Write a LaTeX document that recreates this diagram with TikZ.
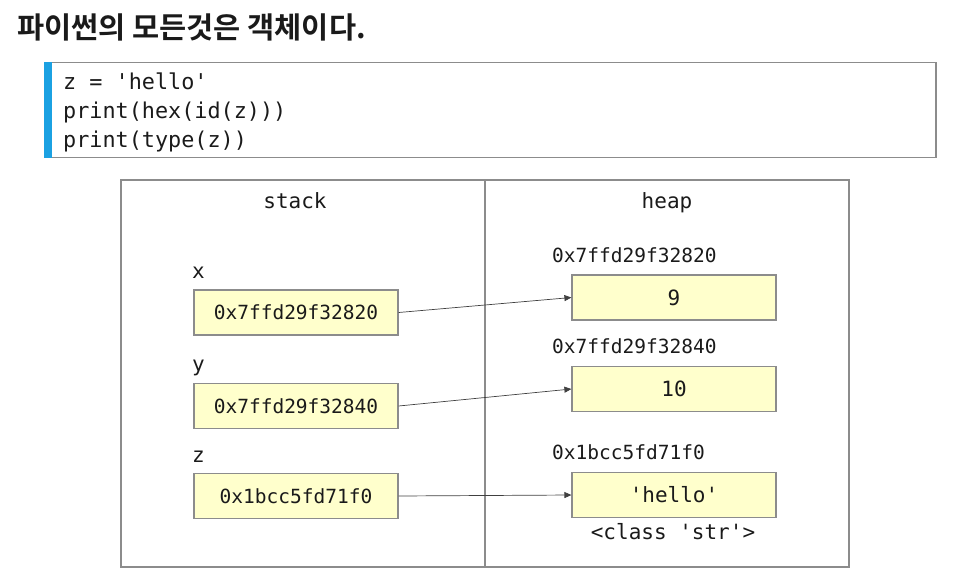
\documentclass[tikz,border=0pt]{standalone}
\usepackage{fontspec}
\setmonofont{DejaVu Sans Mono}
\newfontfamily\krfont{Noto Sans CJK KR}[BoldFont={* Bold}]
\usetikzlibrary{arrows.meta}
\definecolor{cellfill}{HTML}{FFFFCC}
\definecolor{cellline}{HTML}{8C8C8C}
\definecolor{barblue}{HTML}{1BA1E2}
\definecolor{frameline}{HTML}{8C8C8C}
\definecolor{txt}{HTML}{1A1A1A}
\tikzset{
  cell/.style={draw=cellline, line width=1.2pt, fill=cellfill, minimum width=204pt, minimum height=45pt, inner sep=0pt, text=txt},
  lbl/.style={inner sep=0pt, text=txt, anchor=base west, font=\ttfamily\fontsize{19.5}{20}\selectfont},
  head/.style={inner sep=0pt, text=txt, anchor=base, font=\ttfamily\fontsize{21}{22}\selectfont},
  link/.style={draw=black!75, line width=0.7pt, -{Triangle[length=7pt,width=6pt]}}
}
\begin{document}
\begin{tikzpicture}[x=1pt,y=-1pt]
\useasboundingbox (0,0) rectangle (960,586);
% title
\node[anchor=base west, inner sep=0pt, text=txt] (title) at (17,38) {\krfont\bfseries\fontsize{29.5}{31}\selectfont 파이썬의 모든것은 객체이다.};
% code box
\fill[barblue] (44,62) rectangle (52,158);
\draw[frameline, line width=1.2pt] (52,62.5) -- (936,62.5) -- (936,157.5) -- (52,157.5);
\node[anchor=north west, align=left, inner sep=0pt, text=txt, font=\ttfamily\fontsize{21.8}{29}\selectfont] (code) at (63,73)
 {z = 'hello'\\print(hex(id(z)))\\print(type(z))};
% frame
\draw[frameline, line width=1.2pt] (121,180) rectangle (849,567);
\draw[frameline, line width=1.2pt] (485,180) -- (485,567);
\node[head] (stack) at (295,208) {stack};
\node[head] (heap) at (667,208) {heap};
% stack
\node[head, anchor=base west] (xl) at (192,278) {x};
\node[head, anchor=base west] (yl) at (192,371) {y};
\node[head, anchor=base west] (zl) at (192,462) {z};
\node[cell, font=\ttfamily\fontsize{19.5}{20}\selectfont] (sx) at (296,312.5) {0x7ffd29f32820};
\node[cell, font=\ttfamily\fontsize{19.5}{20}\selectfont] (sy) at (296,406) {0x7ffd29f32840};
\node[cell, font=\ttfamily\fontsize{19.5}{20}\selectfont] (sz) at (296,496) {0x1bcc5fd71f0};
% heap
\node[lbl] (hxl) at (552,262) {0x7ffd29f32820};
\node[lbl] (hyl) at (552,353) {0x7ffd29f32840};
\node[lbl] (hzl) at (552,459) {0x1bcc5fd71f0};
\node[cell, font=\ttfamily\fontsize{21}{22}\selectfont] (hx) at (674,297.5) {9};
\node[cell, font=\ttfamily\fontsize{21}{22}\selectfont] (hy) at (674,389) {10};
\node[cell, font=\ttfamily\fontsize{21}{22}\selectfont] (hz) at (674,495) {'hello'};
\node[head] (cls) at (673,539) {<class 'str'>};
% links
\draw[link] (sx.east) -- (hx.west);
\draw[link] (sy.east) -- (hy.west);
\draw[link] (sz.east) -- (hz.west);
\end{tikzpicture}
\end{document}
